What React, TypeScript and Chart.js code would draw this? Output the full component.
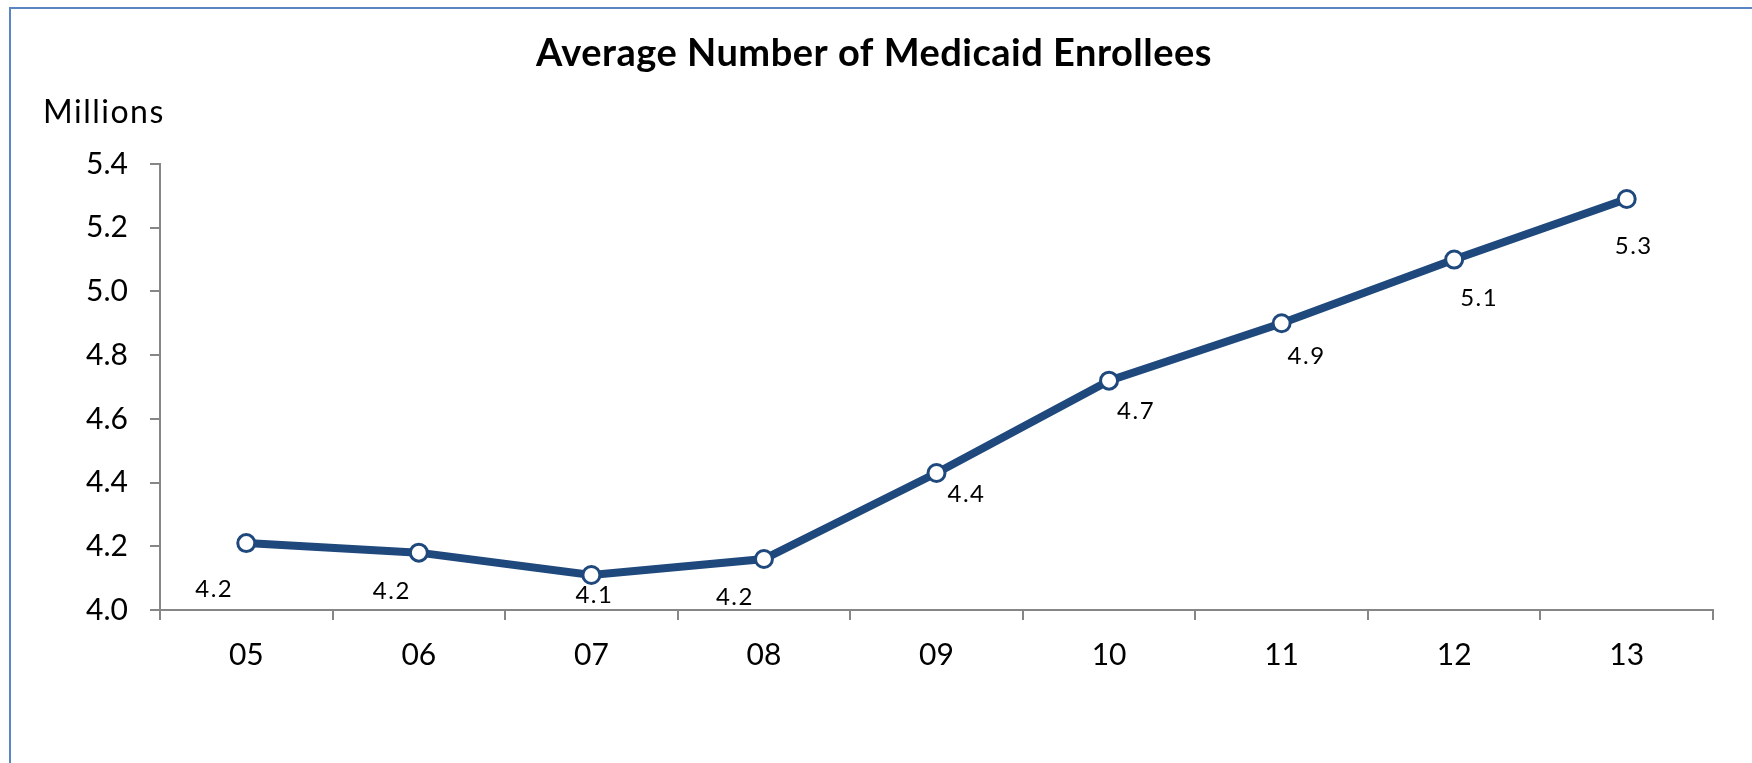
import React, { useEffect, useRef } from "react";
import { Chart, registerables } from "chart.js";

Chart.register(...registerables);

// Fiscal years (two-digit) and average monthly Medicaid enrollment, in millions
const years = ["05", "06", "07", "08", "09", "10", "11", "12", "13"];
const enrollees = [4.21, 4.18, 4.11, 4.16, 4.43, 4.72, 4.9, 5.1, 5.29];

// Y-axis range and tick step (millions)
const yMin = 4.0;
const yMax = 5.4;
const yStep = 0.2;

// Hand-placed data label nudges (px) relative to each point
const labelNudges: [number, number][] = [
  [-33, 45],
  [-28, 38],
  [2, 19],
  [-30, 37],
  [29, 20],
  [26, 30],
  [24, 32],
  [24, 38],
  [6, 46],
];

const TITLE = "Average Number of Medicaid Enrollees";
const UNIT = "Millions";

const FONT = "Lato, 'Open Sans', sans-serif";
const LINE_BLUE = "#1F497D";
const AXIS_GREY = "#868686";
const FRAME_BLUE = "#5A87C4";

const W = 1752;
const H = 763;

const decorPlugin = {
  id: "decor",
  beforeDraw(chart: Chart) {
    const ctx = chart.ctx;
    ctx.save();
    ctx.fillStyle = "#ffffff";
    ctx.fillRect(0, 0, chart.width, chart.height);
    // outer frame (left and top edges)
    ctx.fillStyle = FRAME_BLUE;
    ctx.fillRect(9, 7, 2, chart.height - 7);
    ctx.fillRect(9, 7, chart.width - 9, 2);
    ctx.restore();
  },
  afterDraw(chart: Chart) {
    const ctx = chart.ctx;
    ctx.save();
    ctx.fillStyle = "#000000";
    ctx.textBaseline = "alphabetic";
    // title
    ctx.font = `bold 38px ${FONT}`;
    ctx.textAlign = "center";
    (ctx as any).letterSpacing = "0.5px";
    ctx.fillText(TITLE, 874, 66);
    // unit label
    ctx.font = `32px ${FONT}`;
    ctx.textAlign = "left";
    (ctx as any).letterSpacing = "1.5px";
    ctx.fillText(UNIT, 43, 123);
    ctx.restore();
  },
};

const valueLabelPlugin = {
  id: "valueLabels",
  afterDatasetsDraw(chart: Chart) {
    const ctx = chart.ctx;
    const meta = chart.getDatasetMeta(0);
    const size = 24;
    ctx.save();
    ctx.font = `${size}px ${FONT}`;
    (ctx as any).letterSpacing = "1.5px";
    ctx.fillStyle = "#000000";
    ctx.textAlign = "center";
    ctx.textBaseline = "alphabetic";
    meta.data.forEach((pt: any, i: number) => {
      const [dx, dy] = labelNudges[i] || [0, 20];
      const text = enrollees[i].toFixed(1);
      ctx.fillText(text, pt.x + dx + 1, pt.y + dy + size * 0.358);
    });
    ctx.restore();
  },
};

export default function App() {
  const canvasRef = useRef<HTMLCanvasElement | null>(null);

  useEffect(() => {
    const canvas = canvasRef.current;
    if (!canvas) return;
    const chart = new Chart(canvas, {
      type: "line",
      data: {
        labels: years,
        datasets: [
          {
            data: enrollees,
            borderColor: LINE_BLUE,
            borderWidth: 8,
            pointRadius: 8.5,
            pointBorderWidth: 3,
            pointBackgroundColor: "#ffffff",
            pointBorderColor: LINE_BLUE,
            tension: 0,
            fill: false,
          },
        ],
      },
      options: {
        responsive: false,
        animation: false,
        devicePixelRatio: 1,
        layout: { padding: { left: 0, right: 39, top: 164, bottom: 0 } },
        plugins: {
          legend: { display: false },
          title: { display: false },
          tooltip: { enabled: false },
        },
        scales: {
          x: {
            type: "category",
            offset: true,
            grid: {
              offset: true,
              drawOnChartArea: false,
              drawTicks: true,
              tickLength: 10,
              color: AXIS_GREY,
              lineWidth: 2,
            },
            border: { display: true, color: AXIS_GREY, width: 2 },
            ticks: {
              color: "#000000",
              font: { family: FONT, size: 30 },
              padding: 17,
              maxRotation: 0,
              autoSkip: false,
            },
            afterFit(scale: any) {
              scale.height = H - 610;
            },
          },
          y: {
            min: yMin,
            max: yMax,
            grid: {
              drawOnChartArea: false,
              drawTicks: true,
              tickLength: 10,
              color: AXIS_GREY,
              lineWidth: 2,
            },
            border: { display: true, color: AXIS_GREY, width: 2 },
            ticks: {
              stepSize: yStep,
              color: "#000000",
              font: { family: FONT, size: 30 },
              padding: 22,
              callback: (v: any) => Number(v).toFixed(1),
            },
            afterFit(scale: any) {
              scale.width = 160;
            },
          },
        },
      },
      plugins: [decorPlugin, valueLabelPlugin],
    });
    return () => chart.destroy();
  }, []);

  return (
    <div style={{ position: "fixed", left: 0, top: 0, width: W, height: H, background: "#fff" }}>
      <canvas ref={canvasRef} width={W} height={H} style={{ display: "block", width: W, height: H }} />
    </div>
  );
}
